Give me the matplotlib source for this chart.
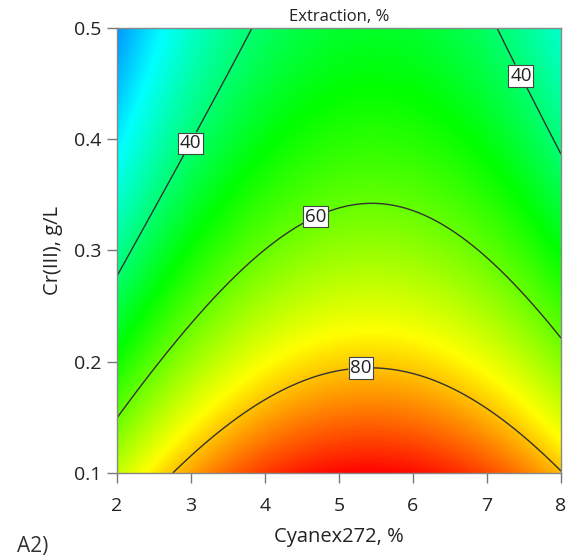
import numpy as np
import matplotlib
matplotlib.use("Agg")
import matplotlib.pyplot as plt
from matplotlib.colors import LinearSegmentedColormap

# ---- data: fitted quadratic response model (coded units) ----
x_range = [2, 8]          # Cyanex272, %
y_range = [0.1, 0.5]      # Cr(III), g/L
# coefficients: intercept, A, B, AB, A^2, B^2  (A = coded Cyanex, B = coded Cr)
coef_names = ["b0", "bA", "bB", "bAB", "bAA", "bBB"]
coef_values = [64.55, 6.21, -25.09, 0.64, -21.4, 6.5]
contour_levels = [40, 60, 80]
x_ticks = [2, 3, 4, 5, 6, 7, 8]
y_ticks = [0.1, 0.2, 0.3, 0.4, 0.5]
# colour scale nodes (response value -> colour)
color_values = [4, 27, 50, 75, 97]
color_list = [(0, 0, 1), (0, 1, 1), (0, 1, 0), (1, 1, 0), (1, 0, 0)]

plt.rcParams['font.family'] = ['Open Sans', 'DejaVu Sans']

xs = np.linspace(x_range[0], x_range[1], 300)
ys = np.linspace(y_range[0], y_range[1], 300)
X, Y = np.meshgrid(xs, ys)
A = (X - 5) / 3
B = (Y - 0.3) / 0.2
b0, bA, bB, bAB, bAA, bBB = coef_values
Z = b0 + bA * A + bB * B + bAB * A * B + bAA * A ** 2 + bBB * B ** 2

vmin, vmax = color_values[0], color_values[-1]
nodes = [((v - vmin) / (vmax - vmin), c) for v, c in zip(color_values, color_list)]
cmap = LinearSegmentedColormap.from_list("de", nodes)

fig = plt.figure(figsize=(5.76, 5.59), dpi=100)
ax = fig.add_axes([0.203, 0.154, 0.771, 0.796])
ax.imshow(Z, origin='lower', extent=[x_range[0], x_range[1], y_range[0], y_range[1]],
          aspect='auto', cmap=cmap, vmin=vmin, vmax=vmax, interpolation='bilinear')
cs = ax.contour(X, Y, Z, levels=contour_levels, colors='#333333', linewidths=1.0)
labels = ax.clabel(cs, fmt='%d', fontsize=13.5, inline=True, inline_spacing=2,
                   manual=[(2.89, 0.40), (7.55, 0.46), (4.69, 0.33), (5.3, 0.19)])
for t in labels:
    t.set_bbox(dict(facecolor='white', edgecolor='#444444', pad=1.2, linewidth=0.8))
    t.set_rotation(0)
    t.set_color('#222222')

ax.set_xlim(x_range)
ax.set_ylim(y_range)
ax.set_xticks(x_ticks)
ax.set_yticks(y_ticks)
ax.set_xticklabels([str(v) for v in x_ticks])
ax.set_yticklabels([f"{v:.1f}" for v in y_ticks])
ax.tick_params(direction='out', length=7, width=1, color='#777777', labelsize=14,
               labelcolor='#222222')
ax.tick_params(axis='x', pad=10)
ax.tick_params(axis='y', pad=4)
for s in ax.spines.values():
    s.set_color('#888888')
    s.set_linewidth(1)

ax.set_xlabel("Cyanex272, %", fontsize=14.5, color='#222222', labelpad=9)
ax.set_ylabel("Cr(III), g/L", fontsize=14.5, color='#222222', labelpad=8)
ax.set_title("Extraction, %", fontsize=12, color='#222222', pad=5)
fig.text(0.03, 0.013, "A2)", fontsize=15, color='#333333')

fig.savefig("out.png", dpi=100)
